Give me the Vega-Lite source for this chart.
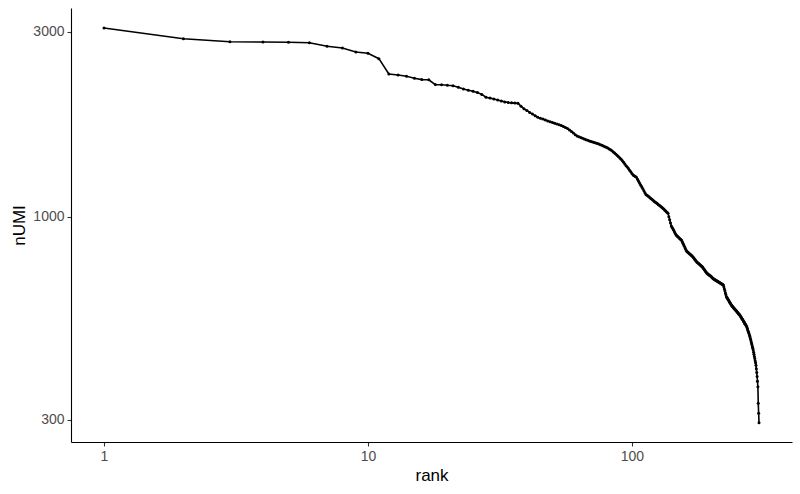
{
  "$schema": "https://vega.github.io/schema/vega-lite/v6.json",
  "width": 721,
  "height": 434,
  "autosize": "none",
  "padding": {"left": 71, "top": 8, "right": 8, "bottom": 52},
  "background": "white",
  "data": {
    "values": [
      {"rank": 1, "nUMI": 3070}, {"rank": 2, "nUMI": 2881}, {"rank": 3, "nUMI": 2830}, {"rank": 4, "nUMI": 2825},
      {"rank": 5, "nUMI": 2822}, {"rank": 6, "nUMI": 2813}, {"rank": 7, "nUMI": 2754}, {"rank": 8, "nUMI": 2727},
      {"rank": 9, "nUMI": 2662}, {"rank": 10, "nUMI": 2642}, {"rank": 11, "nUMI": 2559}, {"rank": 12, "nUMI": 2337},
      {"rank": 13, "nUMI": 2323}, {"rank": 14, "nUMI": 2305}, {"rank": 15, "nUMI": 2278}, {"rank": 16, "nUMI": 2260},
      {"rank": 17, "nUMI": 2258}, {"rank": 18, "nUMI": 2194}, {"rank": 19, "nUMI": 2192}, {"rank": 20, "nUMI": 2185},
      {"rank": 21, "nUMI": 2180}, {"rank": 22, "nUMI": 2160}, {"rank": 23, "nUMI": 2138}, {"rank": 24, "nUMI": 2122},
      {"rank": 25, "nUMI": 2109}, {"rank": 26, "nUMI": 2092}, {"rank": 27, "nUMI": 2070}, {"rank": 28, "nUMI": 2035},
      {"rank": 29, "nUMI": 2025}, {"rank": 30, "nUMI": 2015}, {"rank": 31, "nUMI": 2002}, {"rank": 32, "nUMI": 1990},
      {"rank": 33, "nUMI": 1980}, {"rank": 34, "nUMI": 1972}, {"rank": 35, "nUMI": 1969}, {"rank": 36, "nUMI": 1966},
      {"rank": 37, "nUMI": 1963}, {"rank": 38, "nUMI": 1930}, {"rank": 39, "nUMI": 1900}, {"rank": 40, "nUMI": 1882},
      {"rank": 41, "nUMI": 1860}, {"rank": 42, "nUMI": 1842}, {"rank": 43, "nUMI": 1825}, {"rank": 44, "nUMI": 1807},
      {"rank": 45, "nUMI": 1797}, {"rank": 46, "nUMI": 1788}, {"rank": 47, "nUMI": 1778}, {"rank": 48, "nUMI": 1768},
      {"rank": 49, "nUMI": 1759}, {"rank": 50, "nUMI": 1751}, {"rank": 51, "nUMI": 1743}, {"rank": 52, "nUMI": 1736},
      {"rank": 53, "nUMI": 1729}, {"rank": 54, "nUMI": 1721}, {"rank": 55, "nUMI": 1711}, {"rank": 56, "nUMI": 1701},
      {"rank": 57, "nUMI": 1690}, {"rank": 58, "nUMI": 1676}, {"rank": 59, "nUMI": 1661}, {"rank": 60, "nUMI": 1646},
      {"rank": 61, "nUMI": 1630}, {"rank": 62, "nUMI": 1616}, {"rank": 63, "nUMI": 1609}, {"rank": 64, "nUMI": 1602},
      {"rank": 65, "nUMI": 1595}, {"rank": 66, "nUMI": 1588}, {"rank": 67, "nUMI": 1581}, {"rank": 68, "nUMI": 1576},
      {"rank": 69, "nUMI": 1571}, {"rank": 70, "nUMI": 1566}, {"rank": 71, "nUMI": 1561}, {"rank": 72, "nUMI": 1556},
      {"rank": 73, "nUMI": 1551}, {"rank": 74, "nUMI": 1547}, {"rank": 75, "nUMI": 1542}, {"rank": 76, "nUMI": 1536},
      {"rank": 77, "nUMI": 1530}, {"rank": 78, "nUMI": 1524}, {"rank": 79, "nUMI": 1518}, {"rank": 80, "nUMI": 1512},
      {"rank": 81, "nUMI": 1505}, {"rank": 82, "nUMI": 1498}, {"rank": 83, "nUMI": 1490}, {"rank": 84, "nUMI": 1481},
      {"rank": 85, "nUMI": 1471}, {"rank": 86, "nUMI": 1461}, {"rank": 87, "nUMI": 1451}, {"rank": 88, "nUMI": 1441},
      {"rank": 89, "nUMI": 1430}, {"rank": 90, "nUMI": 1419}, {"rank": 91, "nUMI": 1408}, {"rank": 92, "nUMI": 1396},
      {"rank": 93, "nUMI": 1383}, {"rank": 94, "nUMI": 1369}, {"rank": 95, "nUMI": 1356}, {"rank": 96, "nUMI": 1345},
      {"rank": 97, "nUMI": 1333}, {"rank": 98, "nUMI": 1320}, {"rank": 99, "nUMI": 1307}, {"rank": 100, "nUMI": 1295},
      {"rank": 101, "nUMI": 1283}, {"rank": 102, "nUMI": 1277}, {"rank": 103, "nUMI": 1271}, {"rank": 104, "nUMI": 1266},
      {"rank": 105, "nUMI": 1251}, {"rank": 106, "nUMI": 1236}, {"rank": 107, "nUMI": 1221}, {"rank": 108, "nUMI": 1208},
      {"rank": 109, "nUMI": 1195}, {"rank": 110, "nUMI": 1182}, {"rank": 111, "nUMI": 1168}, {"rank": 112, "nUMI": 1155},
      {"rank": 113, "nUMI": 1142}, {"rank": 114, "nUMI": 1137}, {"rank": 115, "nUMI": 1132}, {"rank": 116, "nUMI": 1127},
      {"rank": 117, "nUMI": 1121}, {"rank": 118, "nUMI": 1116}, {"rank": 119, "nUMI": 1111}, {"rank": 120, "nUMI": 1106},
      {"rank": 121, "nUMI": 1100}, {"rank": 122, "nUMI": 1095}, {"rank": 123, "nUMI": 1090}, {"rank": 124, "nUMI": 1086},
      {"rank": 125, "nUMI": 1081}, {"rank": 126, "nUMI": 1076}, {"rank": 127, "nUMI": 1072}, {"rank": 128, "nUMI": 1067},
      {"rank": 129, "nUMI": 1062}, {"rank": 130, "nUMI": 1058}, {"rank": 131, "nUMI": 1053}, {"rank": 132, "nUMI": 1048},
      {"rank": 133, "nUMI": 1043}, {"rank": 134, "nUMI": 1037}, {"rank": 135, "nUMI": 1032}, {"rank": 136, "nUMI": 1027},
      {"rank": 137, "nUMI": 1022}, {"rank": 138, "nUMI": 1002}, {"rank": 139, "nUMI": 983}, {"rank": 140, "nUMI": 965},
      {"rank": 141, "nUMI": 948}, {"rank": 142, "nUMI": 940}, {"rank": 143, "nUMI": 932}, {"rank": 144, "nUMI": 924},
      {"rank": 145, "nUMI": 915}, {"rank": 146, "nUMI": 907}, {"rank": 147, "nUMI": 899}, {"rank": 148, "nUMI": 895},
      {"rank": 149, "nUMI": 891}, {"rank": 150, "nUMI": 887}, {"rank": 151, "nUMI": 883}, {"rank": 152, "nUMI": 879},
      {"rank": 153, "nUMI": 875}, {"rank": 154, "nUMI": 872}, {"rank": 155, "nUMI": 864}, {"rank": 156, "nUMI": 856},
      {"rank": 157, "nUMI": 848}, {"rank": 158, "nUMI": 840}, {"rank": 159, "nUMI": 832}, {"rank": 160, "nUMI": 824},
      {"rank": 161, "nUMI": 817}, {"rank": 162, "nUMI": 814}, {"rank": 163, "nUMI": 811}, {"rank": 164, "nUMI": 808},
      {"rank": 165, "nUMI": 805}, {"rank": 166, "nUMI": 802}, {"rank": 167, "nUMI": 799}, {"rank": 168, "nUMI": 796},
      {"rank": 169, "nUMI": 793}, {"rank": 170, "nUMI": 790}, {"rank": 171, "nUMI": 786}, {"rank": 172, "nUMI": 782},
      {"rank": 173, "nUMI": 778}, {"rank": 174, "nUMI": 774}, {"rank": 175, "nUMI": 770}, {"rank": 176, "nUMI": 766},
      {"rank": 177, "nUMI": 763}, {"rank": 178, "nUMI": 761}, {"rank": 179, "nUMI": 758}, {"rank": 180, "nUMI": 756},
      {"rank": 181, "nUMI": 753}, {"rank": 182, "nUMI": 751}, {"rank": 183, "nUMI": 748}, {"rank": 184, "nUMI": 746},
      {"rank": 185, "nUMI": 743}, {"rank": 186, "nUMI": 739}, {"rank": 187, "nUMI": 735}, {"rank": 188, "nUMI": 732},
      {"rank": 189, "nUMI": 728}, {"rank": 190, "nUMI": 724}, {"rank": 191, "nUMI": 721}, {"rank": 192, "nUMI": 717},
      {"rank": 193, "nUMI": 715}, {"rank": 194, "nUMI": 713}, {"rank": 195, "nUMI": 711}, {"rank": 196, "nUMI": 709},
      {"rank": 197, "nUMI": 707}, {"rank": 198, "nUMI": 705}, {"rank": 199, "nUMI": 703}, {"rank": 200, "nUMI": 701},
      {"rank": 201, "nUMI": 698}, {"rank": 202, "nUMI": 696}, {"rank": 203, "nUMI": 694}, {"rank": 204, "nUMI": 692},
      {"rank": 205, "nUMI": 691}, {"rank": 206, "nUMI": 689}, {"rank": 207, "nUMI": 688}, {"rank": 208, "nUMI": 687},
      {"rank": 209, "nUMI": 685}, {"rank": 210, "nUMI": 684}, {"rank": 211, "nUMI": 683}, {"rank": 212, "nUMI": 681},
      {"rank": 213, "nUMI": 680}, {"rank": 214, "nUMI": 679}, {"rank": 215, "nUMI": 677}, {"rank": 216, "nUMI": 676},
      {"rank": 217, "nUMI": 675}, {"rank": 218, "nUMI": 673}, {"rank": 219, "nUMI": 672}, {"rank": 220, "nUMI": 671},
      {"rank": 221, "nUMI": 669}, {"rank": 222, "nUMI": 668}, {"rank": 223, "nUMI": 660}, {"rank": 224, "nUMI": 652},
      {"rank": 225, "nUMI": 645}, {"rank": 226, "nUMI": 637}, {"rank": 227, "nUMI": 630}, {"rank": 228, "nUMI": 623},
      {"rank": 229, "nUMI": 620}, {"rank": 230, "nUMI": 617}, {"rank": 231, "nUMI": 614}, {"rank": 232, "nUMI": 611},
      {"rank": 233, "nUMI": 608}, {"rank": 234, "nUMI": 605}, {"rank": 235, "nUMI": 602}, {"rank": 236, "nUMI": 599},
      {"rank": 237, "nUMI": 596}, {"rank": 238, "nUMI": 593}, {"rank": 239, "nUMI": 591}, {"rank": 240, "nUMI": 589},
      {"rank": 241, "nUMI": 587}, {"rank": 242, "nUMI": 585}, {"rank": 243, "nUMI": 583}, {"rank": 244, "nUMI": 581},
      {"rank": 245, "nUMI": 579}, {"rank": 246, "nUMI": 577}, {"rank": 247, "nUMI": 576}, {"rank": 248, "nUMI": 574},
      {"rank": 249, "nUMI": 572}, {"rank": 250, "nUMI": 570}, {"rank": 251, "nUMI": 568}, {"rank": 252, "nUMI": 566},
      {"rank": 253, "nUMI": 564}, {"rank": 254, "nUMI": 562}, {"rank": 255, "nUMI": 561}, {"rank": 256, "nUMI": 559},
      {"rank": 257, "nUMI": 557}, {"rank": 258, "nUMI": 554}, {"rank": 259, "nUMI": 552}, {"rank": 260, "nUMI": 550},
      {"rank": 261, "nUMI": 547}, {"rank": 262, "nUMI": 545}, {"rank": 263, "nUMI": 543}, {"rank": 264, "nUMI": 540},
      {"rank": 265, "nUMI": 538}, {"rank": 266, "nUMI": 536}, {"rank": 267, "nUMI": 533}, {"rank": 268, "nUMI": 531},
      {"rank": 269, "nUMI": 529}, {"rank": 270, "nUMI": 527}, {"rank": 271, "nUMI": 524}, {"rank": 272, "nUMI": 522},
      {"rank": 273, "nUMI": 518}, {"rank": 274, "nUMI": 514}, {"rank": 275, "nUMI": 510}, {"rank": 276, "nUMI": 506},
      {"rank": 277, "nUMI": 503}, {"rank": 278, "nUMI": 499}, {"rank": 279, "nUMI": 495}, {"rank": 280, "nUMI": 491},
      {"rank": 281, "nUMI": 486}, {"rank": 282, "nUMI": 482}, {"rank": 283, "nUMI": 477}, {"rank": 284, "nUMI": 472},
      {"rank": 285, "nUMI": 468}, {"rank": 286, "nUMI": 463}, {"rank": 287, "nUMI": 459}, {"rank": 288, "nUMI": 454},
      {"rank": 289, "nUMI": 448}, {"rank": 290, "nUMI": 443}, {"rank": 291, "nUMI": 437}, {"rank": 292, "nUMI": 432},
      {"rank": 293, "nUMI": 426}, {"rank": 294, "nUMI": 421}, {"rank": 295, "nUMI": 415}, {"rank": 296, "nUMI": 406},
      {"rank": 297, "nUMI": 397}, {"rank": 298, "nUMI": 388}, {"rank": 299, "nUMI": 377}, {"rank": 300, "nUMI": 365},
      {"rank": 301, "nUMI": 331}, {"rank": 302, "nUMI": 312}, {"rank": 303, "nUMI": 295}
    ]
  },
  "mark": {
    "type": "line",
    "color": "black",
    "strokeWidth": 1.6,
    "point": {"filled": true, "size": 9, "color": "black"}
  },
  "encoding": {
    "x": {
      "field": "rank",
      "type": "quantitative",
      "scale": {"type": "log", "domain": [0.75, 404], "nice": false},
      "axis": {"values": [1, 10, 100], "format": "d", "title": "rank"}
    },
    "y": {
      "field": "nUMI",
      "type": "quantitative",
      "scale": {"type": "log", "domain": [263, 3457], "nice": false},
      "axis": {"values": [300, 1000, 3000], "format": "d", "title": "nUMI", "titlePadding": 4}
    }
  },
  "config": {
    "view": {"stroke": null},
    "axis": {
      "grid": false,
      "domainColor": "black",
      "domainWidth": 1.1,
      "tickColor": "#333333",
      "tickWidth": 1.1,
      "tickSize": 4,
      "labelFont": "Liberation Sans",
      "labelFontSize": 14,
      "labelColor": "#4d4d4d",
      "labelPadding": 3,
      "titleFont": "Liberation Sans",
      "titleFontSize": 17,
      "titleFontWeight": "normal",
      "titleColor": "black",
      "titlePadding": 4
    }
  }
}
